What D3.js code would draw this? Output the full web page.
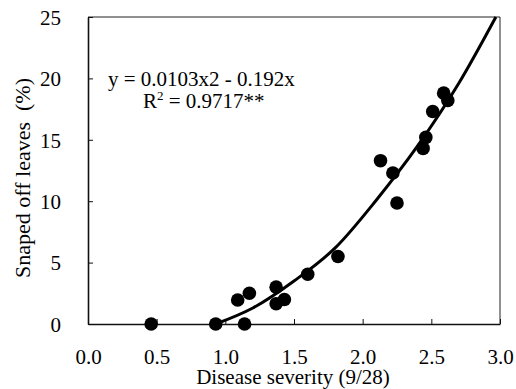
<!DOCTYPE html>
<html>
<head>
<meta charset="utf-8">
<script src="https://cdn.jsdelivr.net/npm/d3@7"></script>
<style>
  body { margin: 0; background: #fff; }
  text { font-family: "Liberation Serif", "Times New Roman", serif; fill: #000; }
</style>
</head>
<body>
<div id="scatter"></div>
<script>
var severity = [0.46, 0.93, 1.14, 1.09, 1.175, 1.37, 1.37, 1.43, 1.60, 1.82, 2.13, 2.22, 2.25, 2.44, 2.46, 2.51, 2.59, 2.62];
var snapped  = [0,    0,    0,    1.95, 2.5,   3.0,  1.65, 2.0,  4.05, 5.5,  13.3, 12.3, 9.85, 14.3, 15.2, 17.3, 18.8, 18.2];

// fitted curve
var curveX = [0.93, 1.2, 1.5, 1.8, 2.1, 2.4, 2.7, 2.97];
var curveY = [0, 1.3, 3.5, 6.2, 10.1, 14.5, 19.6, 25];

var xTicks = [0.0, 0.5, 1.0, 1.5, 2.0, 2.5, 3.0];
var yTicks = [0, 5, 10, 15, 20, 25];

var svgWidth = 516;
var svgHeight = 389;

var margin = {top: 17, bottom: 65, left: 88, right: 16};
var width = svgWidth - (margin.left + margin.right);
var height = svgHeight - (margin.top + margin.bottom);

var svg = d3.select("#scatter")
    .append("svg")
    .attr("width", svgWidth)
    .attr("height", svgHeight);

var chart = svg.append("g")
    .attr("transform", `translate(${margin.left}, ${margin.top})`);

var xScale = d3.scaleLinear().domain([0, 3]).range([0, width]);
var yScale = d3.scaleLinear().domain([0, 25]).range([height, 0]);

// box on top and right, thin
chart.append("line")
    .attr("x1", 0).attr("x2", width).attr("y1", 0).attr("y2", 0)
    .attr("stroke", "#222").attr("stroke-width", 1);
chart.append("line")
    .attr("x1", width).attr("x2", width).attr("y1", 0).attr("y2", height)
    .attr("stroke", "#222").attr("stroke-width", 1);

// axes, ticks point inward
var xAxis = d3.axisBottom(xScale).tickValues(xTicks).tickSizeInner(-5).tickSizeOuter(0)
    .tickPadding(25).tickFormat(d3.format(".1f"));
var yAxis = d3.axisLeft(yScale).tickValues(yTicks).tickSizeInner(-5).tickSizeOuter(0)
    .tickPadding(27).tickFormat(d3.format("d"));

var gx = chart.append("g")
    .attr("transform", `translate(0,${height})`)
    .call(xAxis);
var gy = chart.append("g")
    .call(yAxis);

[gx, gy].forEach(g => {
    g.select(".domain").attr("stroke", "#111").attr("stroke-width", 1.6);
    g.selectAll(".tick line").attr("stroke", "#111").attr("stroke-width", 1);
    g.selectAll(".tick text")
        .style("font-family", "Liberation Serif, serif")
        .style("font-size", "21px")
        .attr("fill", "#000");
});
gy.selectAll(".tick text").attr("dy", "0.35em");

// the regression line
var line = d3.line()
    .x(d => xScale(d[0]))
    .y(d => yScale(d[1]))
    .curve(d3.curveMonotoneX);

chart.append("path")
    .datum(curveX.map((x, i) => [x, curveY[i]]))
    .attr("d", line)
    .attr("fill", "none")
    .attr("stroke", "#000")
    .attr("stroke-width", 3);

// dots
chart.selectAll(".dot")
    .data(severity.map((x, i) => [x, snapped[i]]))
    .enter()
    .append("circle")
    .attr("class", "dot")
    .attr("cx", d => xScale(d[0]))
    .attr("cy", d => yScale(d[1]))
    .attr("r", 6.8)
    .attr("fill", "#000");

// equation text
chart.append("text")
    .attr("x", 20)
    .attr("y", 69)
    .style("font-size", "21px")
    .text("y = 0.0103x2 - 0.192x");

var r2 = chart.append("text")
    .attr("x", 55)
    .attr("y", 91)
    .style("font-size", "21px");
r2.append("tspan").text("R");
r2.append("tspan").attr("dy", -8).style("font-size", "13px").text("2");
r2.append("tspan").attr("dy", 8).text(" = 0.9717**");

// axis labels
chart.append("text")
    .attr("transform", "rotate(-90)")
    .attr("x", 0 - 161)
    .attr("y", -58)
    .attr("text-anchor", "middle")
    .style("font-size", "22px")
    .style("white-space", "pre")
    .attr("xml:space", "preserve")
    .text("Snaped off leaves  (%)");

chart.append("text")
    .attr("x", (width / 2) - 1)
    .attr("y", height + 60)
    .attr("text-anchor", "middle")
    .style("font-size", "21px")
    .text("Disease severity (9/28)");
</script>
</body>
</html>
